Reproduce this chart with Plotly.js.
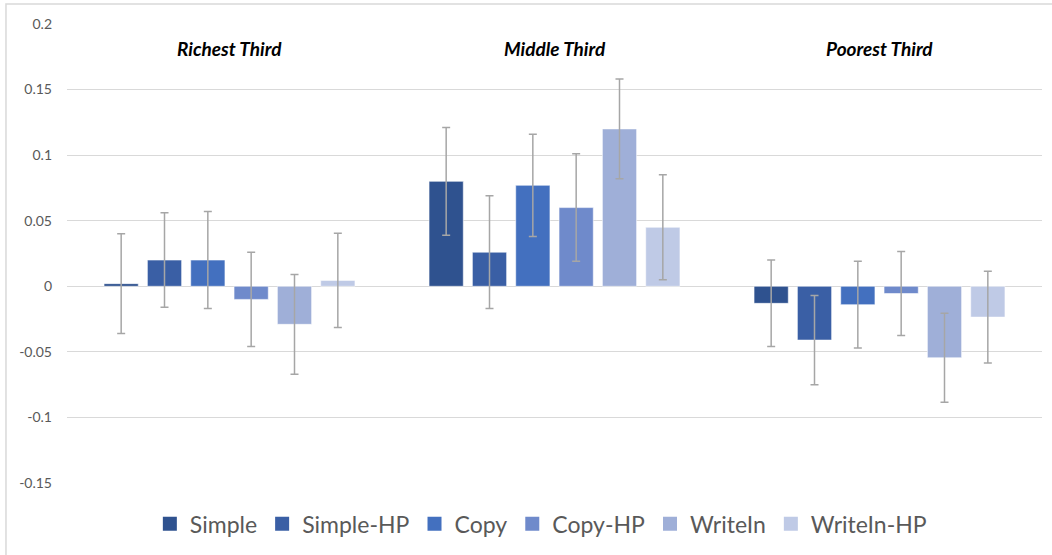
<!DOCTYPE html>
<html>
<head>
<meta charset="utf-8">
<script src="https://cdn.plot.ly/plotly-3.0.1.min.js"></script>
<style>html,body{margin:0;padding:0;background:#fff;}#chart{width:1052px;height:555px;}</style>
</head>
<body>
<div id="chart"></div>
<script>
const groups = ["Richest Third", "Middle Third", "Poorest Third"];
const seriesNames = ["Simple", "Simple-HP", "Copy", "Copy-HP", "WriteIn", "WriteIn-HP"];
const simple    = [0.002, 0.080, -0.013];
const simpleHP  = [0.020, 0.026, -0.041];
const copy      = [0.020, 0.077, -0.014];
const copyHP    = [-0.010, 0.060, -0.0055];
const writeIn   = [-0.029, 0.120, -0.0545];
const writeInHP = [0.0045, 0.045, -0.0235];
const errSimple    = [0.038, 0.041, 0.033];
const errSimpleHP  = [0.036, 0.043, 0.034];
const errCopy      = [0.037, 0.039, 0.033];
const errCopyHP    = [0.036, 0.041, 0.032];
const errWriteIn   = [0.038, 0.038, 0.034];
const errWriteInHP = [0.036, 0.040, 0.035];
const yTicks = [-0.15, -0.1, -0.05, 0, 0.05, 0.1, 0.15, 0.2];
const yTickLabels = ["-0.15", "-0.1", "-0.05", "0", "0.05", "0.1", "0.15", "0.2"];

const values = [simple, simpleHP, copy, copyHP, writeIn, writeInHP];
const errors = [errSimple, errSimpleHP, errCopy, errCopyHP, errWriteIn, errWriteInHP];
const colors = ["#2F528F", "#3A5FA5", "#4370BF", "#6F8ACB", "#9FAFD8", "#BFCAE6"];

const traces = seriesNames.map((n, i) => ({
  type: "bar",
  name: n,
  legendgroup: n,
  showlegend: false,
  x: groups,
  y: values[i],
  marker: {color: colors[i], line: {color: "rgba(255,255,255,0.55)", width: 1}},
  error_y: {type: "data", array: errors[i], visible: true, color: "#A6A6A6", thickness: 1.5, width: 4}
}));

const legendTraces = seriesNames.map((n, i) => ({
  type: "scatter",
  mode: "markers",
  name: n,
  legendgroup: n,
  showlegend: true,
  x: [null],
  y: [null],
  marker: {symbol: "square", size: 14, color: colors[i], line: {width: 0}}
}));

const layout = {
  width: 1052, height: 555,
  margin: {l: 67, r: 10, t: 24, b: 72},
  paper_bgcolor: "#ffffff",
  plot_bgcolor: "#ffffff",
  barmode: "group",
  bargap: 0.2,
  bargroupgap: 0.21,
  font: {family: "Lato, 'Open Sans', sans-serif", color: "#595959"},
  xaxis: {type: "category", categoryarray: groups, showticklabels: false, showgrid: false, zeroline: false, showline: false, ticks: ""},
  yaxis: {
    range: [-0.15, 0.2], tickvals: yTicks, ticktext: yTickLabels,
    showgrid: true, gridcolor: "#D9D9D9", gridwidth: 1,
    zeroline: true, zerolinecolor: "#D9D9D9", zerolinewidth: 1,
    showline: false, ticks: "", ticklabelstandoff: 14,
    tickfont: {size: 14, color: "#595959"}
  },
  showlegend: true,
  legend: {
    orientation: "h", x: 0.486, xanchor: "center", y: -0.089, yanchor: "middle",
    font: {size: 23, color: "#595959"}, itemwidth: 30, tracegroupgap: 0,
    bgcolor: "rgba(0,0,0,0)"
  },
  annotations: groups.map(g => ({
    x: g, y: 0.181, xref: "x", yref: "y", text: "<b><i>" + g + "</i></b>",
    showarrow: false, font: {size: 19, color: "#000000"}, xanchor: "center", yanchor: "middle"
  })),
  shapes: [{
    type: "rect", xref: "paper", yref: "paper",
    x0: -0.0626, x1: 1.02, y0: -0.3, y1: 1.0436,
    line: {color: "#D9D9D9", width: 1.5}, fillcolor: "rgba(0,0,0,0)", layer: "below"
  }]
};

Plotly.newPlot("chart", traces.concat(legendTraces), layout, {displayModeBar: false, staticPlot: true});
</script>
</body>
</html>
